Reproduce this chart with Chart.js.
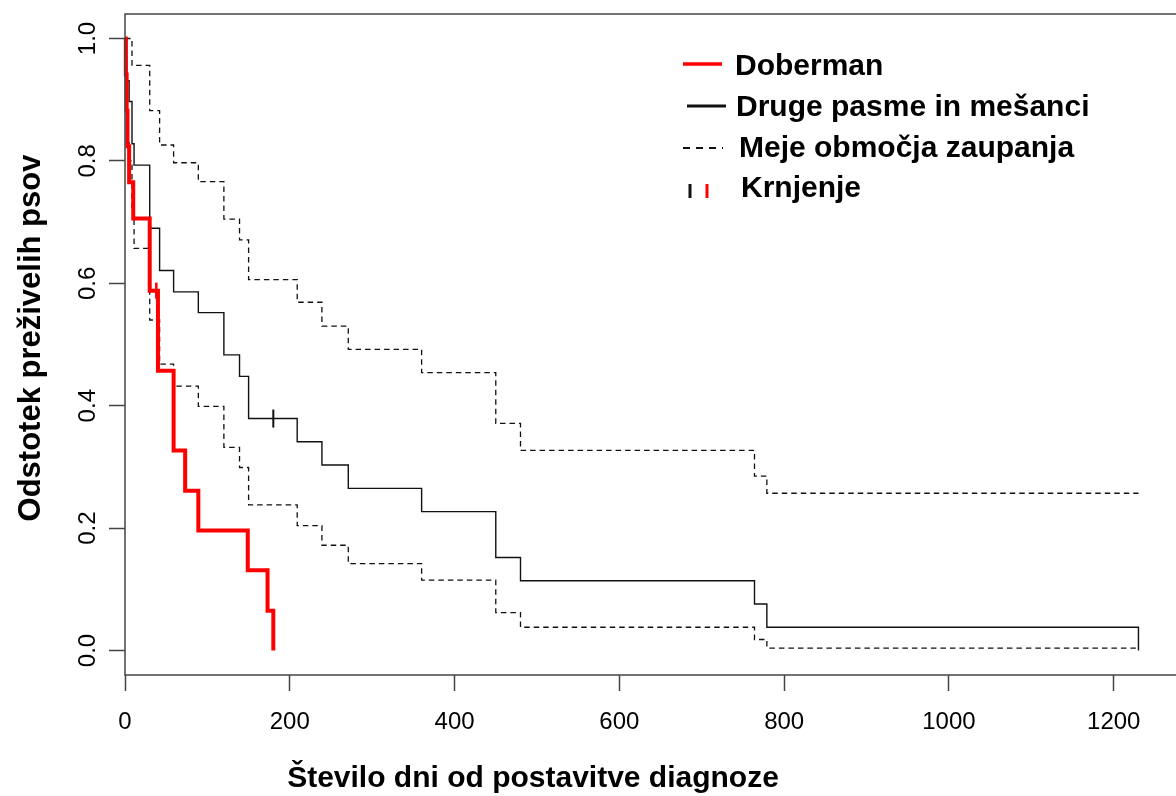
<!DOCTYPE html>
<html>
<head>
<meta charset="utf-8">
<script src="https://cdn.jsdelivr.net/npm/chart.js@4/dist/chart.umd.min.js"></script>
<style>
html,body{margin:0;padding:0;background:#fff;overflow:hidden;width:1176px;height:796px;}
#wrap{position:absolute;left:0;top:0;width:1190px;height:796px;}
</style>
</head>
<body>
<div id="wrap"><canvas id="c"></canvas></div>
<script>
// ---- data ----
const xTickValues = [0, 200, 400, 600, 800, 1000, 1200];
const xTickLabels = ["0", "200", "400", "600", "800", "1000", "1200"];
const yTickValues = [0, 0.2, 0.4, 0.6, 0.8, 1.0];
const yTickLabels = ["0.0", "0.2", "0.4", "0.6", "0.8", "1.0"];

const dobermanDays = [0, 1, 2, 3, 5, 10, 30, 40, 59, 73, 89, 149, 173, 180];
const dobermanSurv = [1, 0.941, 0.882, 0.824, 0.765, 0.706, 0.588, 0.457, 0.327, 0.261, 0.196, 0.131, 0.065, 0];
const dobermanCensorDays = [38];
const dobermanCensorSurv = [0.588];

const otherDays = [0, 2, 5, 8.5, 11, 30, 42, 59, 89, 120, 139, 150, 209, 239, 271, 360, 450, 480, 764, 779, 1230];
const otherSurv = [1, 0.931, 0.897, 0.828, 0.793, 0.690, 0.621, 0.586, 0.552, 0.483, 0.448, 0.379, 0.341, 0.303, 0.265, 0.227, 0.152, 0.114, 0.076, 0.038, 0];
const otherCensorDays = [180];
const otherCensorSurv = [0.379];

const upperDays = [0, 8.5, 30, 42, 59, 89, 120, 139, 150, 209, 239, 271, 360, 450, 480, 764, 779, 1230];
const upperSurv = [1, 0.956, 0.882, 0.826, 0.797, 0.766, 0.705, 0.671, 0.606, 0.569, 0.530, 0.492, 0.454, 0.371, 0.327, 0.285, 0.257, 0.257];

const lowerDays = [0, 2, 5, 8.5, 11, 30, 42, 59, 89, 120, 139, 150, 209, 239, 271, 360, 450, 480, 764, 779, 1230];
const lowerSurv = [1, 0.83, 0.80, 0.72, 0.657, 0.540, 0.468, 0.432, 0.399, 0.332, 0.299, 0.238, 0.204, 0.172, 0.142, 0.115, 0.062, 0.038, 0.018, 0.004, 0.004];

const legendLabels = ["Doberman", "Druge pasme in mešanci", "Meje območja zaupanja", "Krnjenje"];
const xTitle = "Število dni od postavitve diagnoze";
const yTitle = "Odstotek preživelih psov";

// ---- rendering ----
const FONT = "'Liberation Sans', Arial, Helvetica, sans-serif";
const toPts = (xs, ys) => xs.map((d, i) => ({x: d, y: ys[i]}));
const RED = '#ff0000';
const INK = '#111111';
const AXIS = '#444444';

const decor = {
  id: 'decor',
  afterDraw(chart) {
    const ctx = chart.ctx;
    const a = chart.chartArea;
    ctx.save();
    // box
    ctx.strokeStyle = AXIS;
    ctx.lineWidth = 1.5;
    ctx.strokeRect(a.left, a.top, a.right - a.left, a.bottom - a.top);

    // axis titles
    ctx.fillStyle = '#000';
    ctx.textAlign = 'center';
    ctx.textBaseline = 'middle';
    ctx.font = "bold 30px " + FONT;
    ctx.fillText(xTitle, 533, 779);
    ctx.save();
    ctx.font = "bold 31px " + FONT;
    ctx.translate(31, 338);
    ctx.rotate(-Math.PI / 2);
    ctx.fillText(yTitle, 0, 0);
    ctx.restore();

    // legend
    ctx.textAlign = 'left';
    ctx.textBaseline = 'alphabetic';
    ctx.font = "bold 30px " + FONT;
    const rows = [75, 116, 157, 197];
    const tx = [735, 736, 739, 741];
    for (let i = 0; i < legendLabels.length; i++) {
      ctx.fillText(legendLabels[i], tx[i], rows[i]);
    }
    // symbols
    ctx.lineCap = 'butt';
    ctx.strokeStyle = RED; ctx.lineWidth = 3.5;
    ctx.beginPath(); ctx.moveTo(683, 64); ctx.lineTo(722, 64); ctx.stroke();
    ctx.strokeStyle = INK; ctx.lineWidth = 3;
    ctx.beginPath(); ctx.moveTo(687, 106); ctx.lineTo(726, 106); ctx.stroke();
    ctx.lineWidth = 2;
    ctx.setLineDash([7, 6]);
    ctx.beginPath(); ctx.moveTo(683, 148); ctx.lineTo(723, 148); ctx.stroke();
    ctx.setLineDash([]);
    ctx.lineWidth = 3;
    ctx.beginPath(); ctx.moveTo(690, 184); ctx.lineTo(690, 198); ctx.stroke();
    ctx.strokeStyle = RED;
    ctx.beginPath(); ctx.moveTo(707, 184); ctx.lineTo(707, 198); ctx.stroke();
    ctx.restore();
  }
};

const stepLine = (data, color, width, dash) => ({
  type: 'line', data, borderColor: color, borderWidth: width, borderDash: dash || [],
  stepped: 'before', pointRadius: 0, fill: false, clip: false, tension: 0
});
const censor = (data, color, r, w) => ({
  type: 'line', data, showLine: false, borderColor: color, backgroundColor: color,
  pointStyle: 'line', pointRotation: 90, pointRadius: r, pointBorderWidth: w,
  pointBorderColor: color, clip: false
});

new Chart(document.getElementById('c'), {
  type: 'line',
  data: {
    datasets: [
      Object.assign(stepLine(toPts(dobermanDays, dobermanSurv), RED, 4), {label: legendLabels[0]}),
      Object.assign(censor(toPts(dobermanCensorDays, dobermanCensorSurv), RED, 8, 2.5), {label: legendLabels[3]}),
      Object.assign(censor(toPts(otherCensorDays, otherCensorSurv), INK, 9, 2), {label: legendLabels[3]}),
      Object.assign(stepLine(toPts(otherDays, otherSurv), INK, 1.4), {label: legendLabels[1]}),
      Object.assign(stepLine(toPts(upperDays, upperSurv), INK, 1.3, [5.5, 4]), {label: legendLabels[2]}),
      Object.assign(stepLine(toPts(lowerDays, lowerSurv), INK, 1.3, [5.5, 4]), {label: legendLabels[2]})
    ]
  },
  options: {
    responsive: true,
    maintainAspectRatio: false,
    animation: false,
    events: [],
    layout: {padding: {top: 14, right: 2, left: 0, bottom: 0}},
    plugins: {legend: {display: false}, tooltip: {enabled: false}},
    scales: {
      x: {
        type: 'linear', min: 0, max: 1279.2,
        afterBuildTicks: s => { s.ticks = xTickValues.map(v => ({value: v})); },
        afterFit: s => { s.height = 121; s.paddingLeft = 0; s.paddingRight = 0; },
        ticks: {font: {family: FONT, size: 24}, color: '#000', padding: 17, maxRotation: 0, minRotation: 0, autoSkip: false,
                callback: (v, i) => xTickLabels[i]},
        grid: {drawOnChartArea: false, drawTicks: true, tickLength: 16, tickColor: AXIS, tickWidth: 1.5, color: AXIS},
        border: {display: false}
      },
      y: {
        type: 'linear', min: -0.04, max: 1.04,
        afterBuildTicks: s => { s.ticks = yTickValues.map(v => ({value: v})); },
        afterFit: s => { s.width = 125; s.paddingTop = 0; s.paddingBottom = 0; },
        ticks: {font: {family: FONT, size: 24}, color: '#000', padding: 4, minRotation: 90, maxRotation: 90,
                crossAlign: 'center', autoSkip: false,
                callback: (v, i) => yTickLabels[i]},
        grid: {drawOnChartArea: false, drawTicks: true, tickLength: 16, tickColor: AXIS, tickWidth: 1.5, color: AXIS},
        border: {display: false}
      }
    }
  },
  plugins: [decor]
});
</script>
</body>
</html>
